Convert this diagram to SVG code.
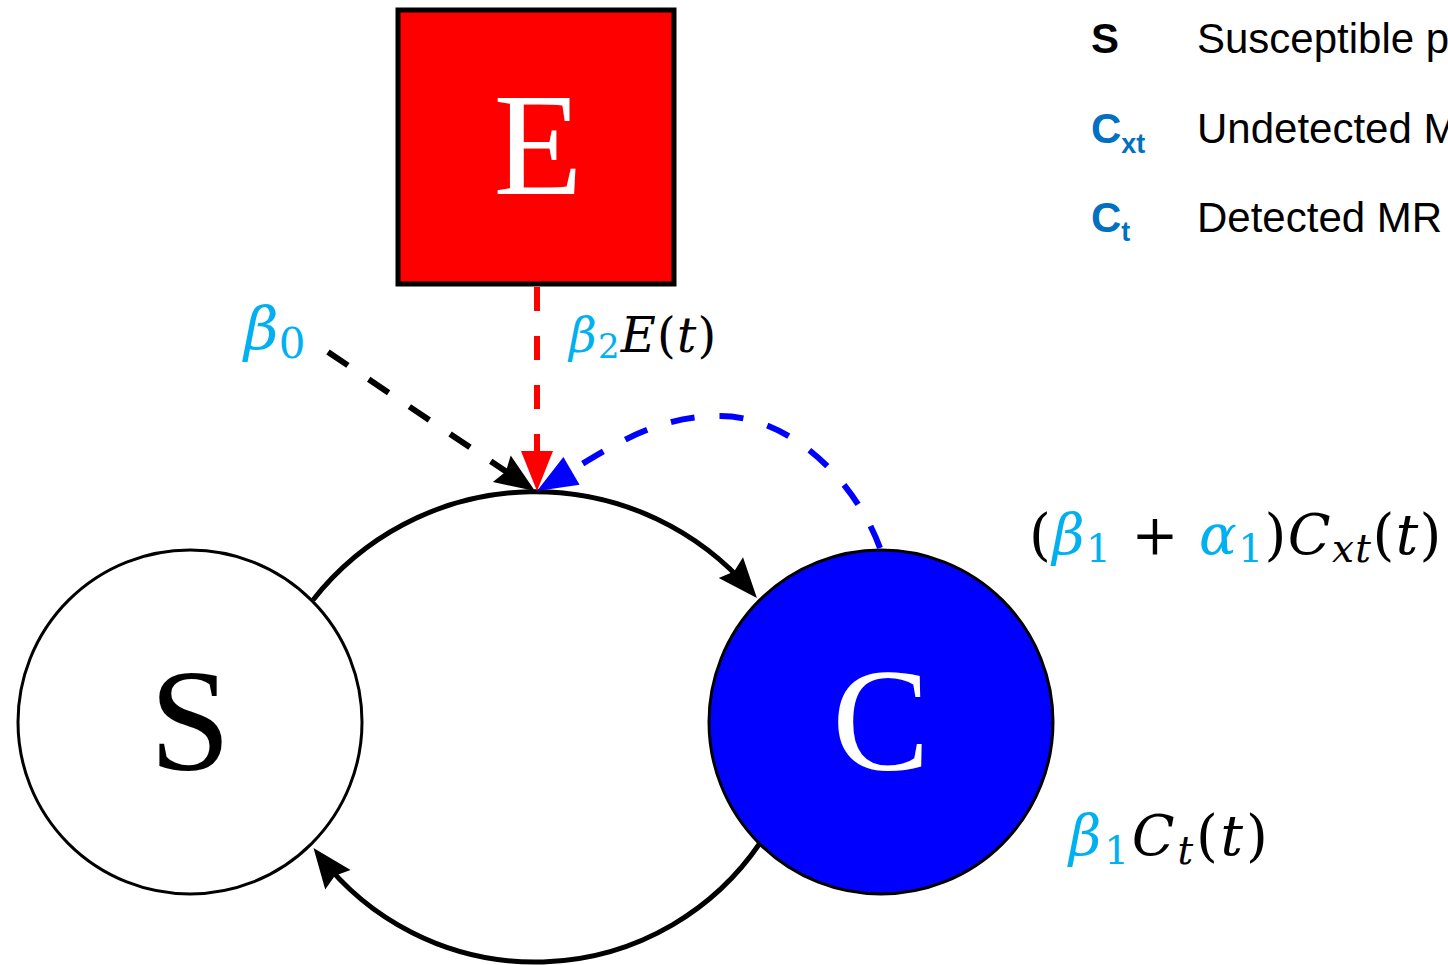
<svg xmlns="http://www.w3.org/2000/svg" width="1448" height="965" viewBox="0 0 1448 965">
<style>
.big{font-family:"Liberation Serif","DejaVu Serif",serif;font-size:146px;text-anchor:middle}
.m{font-family:"DejaVu Serif","Liberation Serif",serif;fill:#000}
.it{font-style:italic}
.cy{fill:#00B0F0}
.lg{font-family:"Liberation Sans",Arial,sans-serif;font-size:42px;fill:#000}
.lb{font-weight:bold}
.bl{fill:#0070C0}
.arc{fill:none;stroke:#000;stroke-width:5}
.dash{fill:none;stroke-width:6;stroke-dasharray:24 25}
</style>
<defs>
<marker id="ak" markerUnits="userSpaceOnUse" markerWidth="44" markerHeight="36" refX="30" refY="16" orient="auto" overflow="visible"><path d="M0,0 L40,16 L0,32 L5,16 Z" fill="#000"/></marker>
<marker id="ar" markerUnits="userSpaceOnUse" markerWidth="44" markerHeight="36" refX="30" refY="16" orient="auto" overflow="visible"><path d="M0,0 L40,16 L0,32 Z" fill="#FF0000"/></marker>
<marker id="ab" markerUnits="userSpaceOnUse" markerWidth="44" markerHeight="36" refX="30" refY="16" orient="auto" overflow="visible"><path d="M0,0 L40,16 L0,32 Z" fill="#0000FF"/></marker>
</defs>
<rect width="1448" height="965" fill="#fff"/>

<g id="node-E">
<rect x="398" y="10" width="276" height="274" fill="#FF0000" stroke="#000" stroke-width="5"/>
<text class="big" x="538" y="194" fill="#fff">E</text>
</g>
<g id="node-S">
<circle cx="190" cy="722" r="172" fill="#fff" stroke="#000" stroke-width="3"/>
<text class="big" x="190" y="770" fill="#000">S</text>
</g>
<g id="node-C">
<circle cx="881" cy="722" r="172" fill="#0000FF" stroke="#000" stroke-width="3"/>
<text class="big" x="881" y="770" fill="#fff">C</text>
</g>

<g id="connectors">
<path class="arc" d="M313,600 A283,283 0 0 1 750.4,590.4" marker-end="url(#ak)"/>
<path class="arc" d="M760,843 A272,272 0 0 1 319.6,856" marker-end="url(#ak)"/>
<path class="dash" stroke="#000" d="M328,352 L526.7,485.4" marker-end="url(#ak)"/>
<path class="dash" stroke="#FF0000" d="M537,287 L537,481" marker-end="url(#ar)"/>
<path class="dash" stroke="#0000FF" d="M880,548 C855,480 790,416 720,416 S607,450 545.6,486" marker-end="url(#ab)"/>
</g>

<g id="labels">
<text class="m" x="244" y="350" font-size="60"><tspan class="it cy">β</tspan><tspan class="cy" font-size="42" dy="8">0</tspan></text>
<text class="m" x="569" y="352" font-size="48" letter-spacing="1.2"><tspan class="it cy">β</tspan><tspan class="cy" font-size="34" dy="6">2</tspan><tspan class="it" dy="-6">E</tspan>(<tspan class="it">t</tspan>)</text>
<text class="m" x="1029" y="554" font-size="56" letter-spacing="1.4"><tspan>(</tspan><tspan class="it cy">β</tspan><tspan class="cy" font-size="39" dy="8">1</tspan><tspan dy="-8"> + </tspan><tspan class="it cy">α</tspan><tspan class="cy" font-size="39" dy="8">1</tspan><tspan dy="-8">)</tspan><tspan class="it">C</tspan><tspan class="it" font-size="39" dy="8">xt</tspan><tspan dy="-8">(</tspan><tspan class="it">t</tspan>)</text>
<text class="m" x="1069" y="855" font-size="56" letter-spacing="2.8"><tspan class="it cy">β</tspan><tspan class="cy" font-size="39" dy="9">1</tspan><tspan class="it" dy="-9">C</tspan><tspan class="it" font-size="39" dy="9">t</tspan><tspan dy="-9">(</tspan><tspan class="it">t</tspan>)</text>
</g>

<g id="legend">
<text class="lg lb" x="1091" y="53">S</text>
<text class="lg" x="1197" y="53">Susceptible p</text>
<text class="lg lb bl" x="1091" y="143">C<tspan font-size="27" y="153">xt</tspan></text>
<text class="lg" x="1197" y="143">Undetected M</text>
<text class="lg lb bl" x="1091" y="232">C<tspan font-size="27" y="241">t</tspan></text>
<text class="lg" x="1197" y="232">Detected MR</text>
</g>
</svg>
